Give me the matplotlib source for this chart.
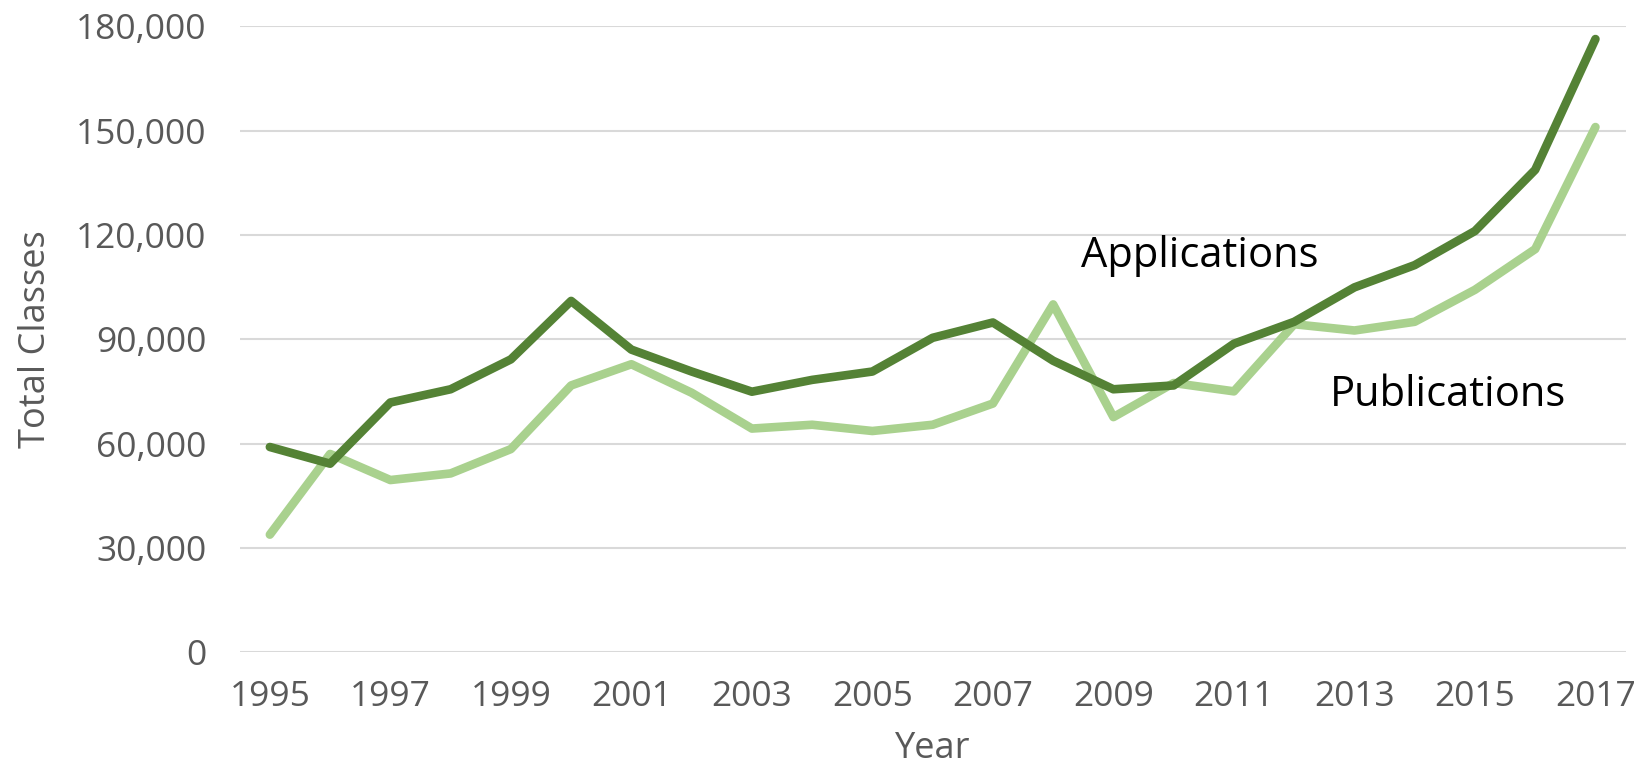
import matplotlib.pyplot as plt
from matplotlib.ticker import FuncFormatter

plt.rcParams['font.family'] = ['Open Sans', 'DejaVu Sans']

years = list(range(1995, 2018))

# total classes per year
applications = [59000, 54200, 71800, 75600, 84200, 101000, 87000, 80700, 74900, 78300,
                80700, 90400, 94800, 83800, 75600, 76700, 88700, 95000, 104900, 111300,
                121100, 138700, 176300]
publications = [33800, 57000, 49500, 51400, 58400, 76700, 82800, 74600, 64300, 65400,
                63600, 65400, 71500, 100000, 67600, 77400, 75000, 94300, 92500, 95000,
                104200, 115900, 151000]

yticks = [0, 30000, 60000, 90000, 120000, 150000, 180000]
xticks = list(range(1995, 2018, 2))

dark_green = '#548235'
light_green = '#a9d18e'
grey_text = '#595959'

fig = plt.figure(figsize=(16.42, 7.7), dpi=100)
ax = fig.add_axes([0.146, 0.153, 0.844, 0.813])

ax.plot(years, applications, color=dark_green, linewidth=6.2, solid_capstyle='round', zorder=3)
ax.plot(years, publications, color=light_green, linewidth=6.2, solid_capstyle='round', zorder=2)

ax.set_xlim(1994.5, 2017.5)
ax.set_ylim(0, 180000)
ax.set_xticks(xticks)
ax.set_yticks(yticks)
ax.yaxis.set_major_formatter(FuncFormatter(lambda v, p: f'{int(v):,}'))

ax.grid(axis='y', color='#d9d9d9', linewidth=1.5)
ax.set_axisbelow(True)
for s in ax.spines.values():
    s.set_visible(False)

ax.tick_params(axis='both', length=0, labelsize=25.5, colors=grey_text)
ax.tick_params(axis='y', pad=24)
ax.tick_params(axis='x', pad=20)

ax.set_xlabel('Year', fontsize=26, color=grey_text, labelpad=12)
ax.set_ylabel('Total Classes', fontsize=26, color=grey_text, labelpad=16)

# line labels
ax.text(2010.43, 110800, 'Applications', fontsize=30, color='black', ha='center', va='baseline')
ax.text(2014.56, 70700, 'Publications', fontsize=30, color='black', ha='center', va='baseline')

fig.savefig('out.png', dpi=100)
